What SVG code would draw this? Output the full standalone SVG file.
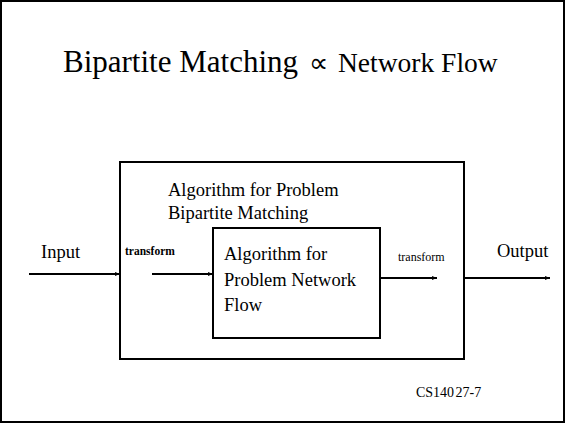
<svg xmlns="http://www.w3.org/2000/svg" width="565" height="424" viewBox="0 0 565 424">
<style>
text{font-family:"Liberation Serif","Times New Roman",serif;fill:#000}
.lbl{font-size:18.5px}
.box{fill:none;stroke:#000;stroke-width:2}
.conn{stroke:#000;stroke-width:2;fill:none;marker-end:url(#ah)}
</style>
<defs>
<marker id="ah" viewBox="0 0 10 10" refX="10" refY="5" markerWidth="6" markerHeight="5" orient="auto" markerUnits="userSpaceOnUse">
<path d="M0,1 L10,5 L0,9 Z" fill="#000"/>
</marker>
</defs>
<rect x="1" y="1" width="563" height="421" fill="#fff" stroke="#000" stroke-width="2"/>
<g id="title">
<text x="63" y="72" font-size="31">Bipartite Matching</text>
<text x="309" y="72" font-size="27">∝</text>
<text x="338" y="72" font-size="27.5">Network Flow</text>
</g>
<g id="outer">
<rect class="box" x="120" y="162" width="344" height="197"/>
<text class="lbl" x="168" y="196">Algorithm for Problem</text>
<text class="lbl" x="168" y="219">Bipartite Matching</text>
</g>
<g id="inner">
<rect class="box" x="213" y="228" width="167" height="110"/>
<text class="lbl" x="224" y="260">Algorithm for</text>
<text class="lbl" x="224" y="286">Problem Network</text>
<text class="lbl" x="224" y="311">Flow</text>
</g>
<g id="input"><text class="lbl" x="41" y="258">Input</text></g>
<g id="output"><text class="lbl" x="497" y="257">Output</text></g>
<g id="connectors">
<line class="conn" x1="29" y1="274" x2="120" y2="274"/>
<line class="conn" x1="152" y1="274" x2="213" y2="274"/>
<line class="conn" x1="380" y1="278" x2="437" y2="278"/>
<line class="conn" x1="464" y1="278" x2="550" y2="278"/>
<text x="125" y="255" font-size="11.5" font-weight="bold">transform</text>
<text x="398" y="261" font-size="12">transform</text>
</g>
<g id="footer"><text x="416" y="397" font-size="14" word-spacing="-2">CS140 27-7</text></g>
</svg>
